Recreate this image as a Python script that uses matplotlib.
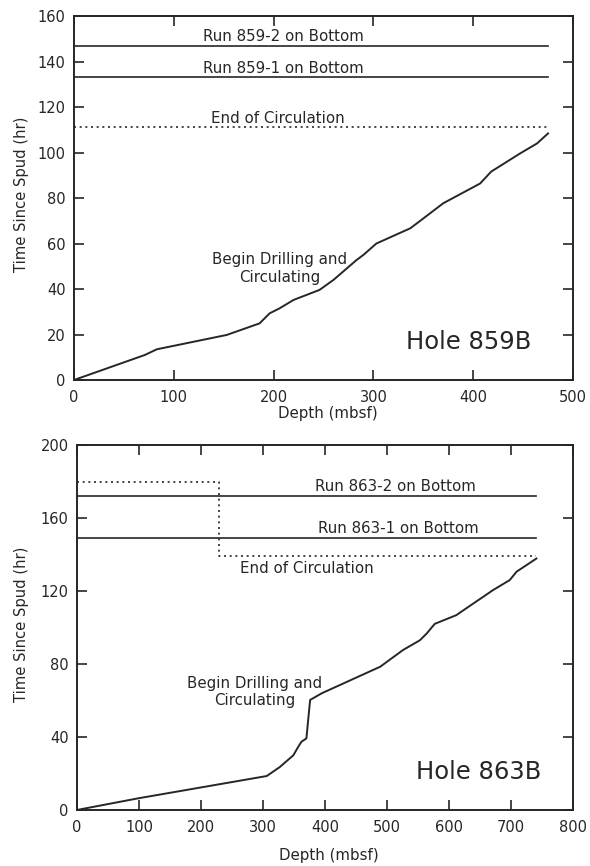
import numpy as np
import matplotlib.pyplot as plt

plt.rcParams['font.family'] = ['DejaVu Sans']

# Hole 859B drilling record
depth_859 = [0, 71, 83, 153, 186, 196, 206, 220, 246, 260, 283, 290, 303, 337, 347,
             370, 407, 418, 447, 464, 475]
time_859 = [0, 11, 13.5, 19.8, 24.9, 29.3, 31.5, 35.2, 39.6, 44, 52.7, 55, 60, 66.7, 70,
            77.7, 86.4, 91.6, 99.6, 104, 108.4]
run_859 = [133, 147]
run_859_labels = ["Run 859-1 on Bottom", "Run 859-2 on Bottom"]
end_circ_859 = 111
max_depth_859 = 475

# Hole 863B drilling record
depth_863 = [0, 99, 306, 327, 349, 357, 362, 370, 376, 395, 489, 526, 553, 564, 577,
             612, 620, 671, 698, 709, 741]
time_863 = [0, 6.4, 18.6, 23.5, 30, 34.7, 37.4, 39.2, 60.3, 64, 78.5, 87.7, 93, 96.7, 102,
            106.8, 108.7, 120.5, 126, 130.6, 137.8]
run_863 = [149, 172]
run_863_labels = ["Run 863-1 on Bottom", "Run 863-2 on Bottom"]
circ_863_depth = [0, 229, 229, 741]
circ_863_time = [180, 180, 139, 139]

ink = '#262626'
fig = plt.figure(figsize=(5.9, 8.66), dpi=100)
ax1 = fig.add_axes([0.1254, 0.5612, 0.8458, 0.4203])
ax2 = fig.add_axes([0.1305, 0.0647, 0.8407, 0.4214])

dot = (0, (1.2, 2.2))


def style(ax, xmax, ymax, xstep, ystep, xlab_y, ylab_x):
    ax.set_xlim(0, xmax)
    ax.set_ylim(0, ymax)
    ax.set_xticks(np.arange(0, xmax + 1, xstep))
    ax.set_yticks(np.arange(0, ymax + 1, ystep))
    ax.tick_params(direction='in', length=7, width=1.2, top=True, right=True,
                   labelsize=10.5, colors=ink)
    ax.tick_params(axis='x', pad=7)
    ax.tick_params(axis='y', pad=6)
    for s in ax.spines.values():
        s.set_linewidth(1.4)
        s.set_color(ink)
    ax.set_xlabel("Depth (mbsf)", fontsize=10.8, color=ink)
    ax.set_ylabel("Time Since Spud (hr)", fontsize=10.6, color=ink)
    ax.xaxis.set_label_coords(0.508, xlab_y)
    ax.yaxis.set_label_coords(ylab_x, 0.51)


# top panel
ax1.plot(depth_859, time_859, color=ink, lw=1.4)
for t, lab in zip(run_859, run_859_labels):
    ax1.plot([0, max_depth_859], [t, t], color=ink, lw=1.2)
    ax1.text(210, t + 0.8, lab, ha='center', va='bottom', fontsize=10.8, color=ink)
ax1.plot([0, max_depth_859], [end_circ_859, end_circ_859], color=ink, lw=1.2,
         linestyle=dot)
ax1.text(204, end_circ_859 + 0.8, "End of Circulation", ha='center', va='bottom',
         fontsize=10.8, color=ink)
ax1.text(206, 49, "Begin Drilling and\nCirculating", ha='center', va='center',
         fontsize=10.8, linespacing=1.2, color=ink)
ax1.text(395, 16.7, "Hole 859B", ha='center', va='center', fontsize=17.5, color=ink)
style(ax1, 500, 160, 100, 20, -0.071, -0.09)

# bottom panel
ax2.plot(depth_863, time_863, color=ink, lw=1.4)
for t, lab, cx in zip(run_863, run_863_labels, [519, 513]):
    ax2.plot([0, depth_863[-1]], [t, t], color=ink, lw=1.2)
    ax2.text(cx, t + 1.2, lab, ha='center', va='bottom', fontsize=10.8, color=ink)
ax2.plot(circ_863_depth, circ_863_time, color=ink, lw=1.2, linestyle=dot)
ax2.text(371, 132.6, "End of Circulation", ha='center', va='center', fontsize=10.8,
         color=ink)
ax2.text(287, 64.7, "Begin Drilling and\nCirculating", ha='center', va='center',
         fontsize=10.8, linespacing=1.2, color=ink)
ax2.text(648, 20.8, "Hole 863B", ha='center', va='center', fontsize=17.5, color=ink)
style(ax2, 800, 200, 100, 40, -0.104, -0.096)

fig.savefig('out.png', dpi=100)
